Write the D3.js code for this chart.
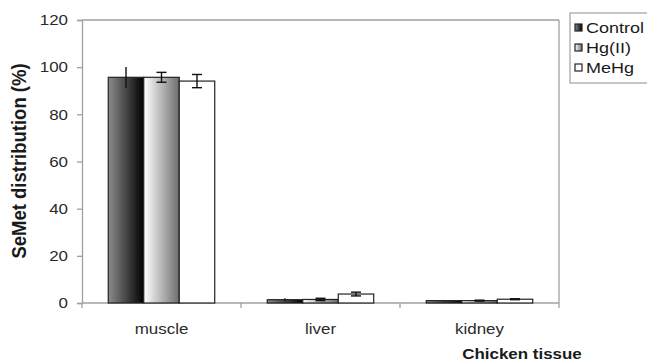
<!DOCTYPE html>
<html>
<head>
<meta charset="utf-8">
<script src="https://cdn.jsdelivr.net/npm/d3@7"></script>
<style>
  body { margin: 0; background: #fff; }
  text { font-family: "Liberation Sans", Arial, sans-serif; }
</style>
</head>
<body>
<div id="chart"></div>
<script>
var tissues = ["muscle", "liver", "kidney"];
var groups = ["Control", "Hg(II)", "MeHg"];
var controlVals = [95.7, 1.4, 1.0];
var hgVals = [95.7, 1.5, 1.0];
var mehgVals = [94.1, 3.8, 1.6];
var controlErr = [4.4, 0.6, 0.2];
var hgErr = [2.1, 0.5, 0.2];
var mehgErr = [2.8, 0.8, 0.2];
var yTicks = [0, 20, 40, 60, 80, 100, 120];

var width = 647, height = 362;
var plotLeft = 82, plotRight = 559, plotTop = 20, plotBottom = 303;
var stretch = "scale(1.13,1)";

var svg = d3.select("#chart").append("svg")
    .attr("width", width).attr("height", height);

var defs = svg.append("defs");
var g1 = defs.append("linearGradient").attr("id", "gradControl");
g1.append("stop").attr("offset", "0%").attr("stop-color", "#8c8c8c");
g1.append("stop").attr("offset", "100%").attr("stop-color", "#000");
var g2 = defs.append("linearGradient").attr("id", "gradHg");
g2.append("stop").attr("offset", "0%").attr("stop-color", "#fff");
g2.append("stop").attr("offset", "100%").attr("stop-color", "#6e6e6e");

var fills = ["url(#gradControl)", "url(#gradHg)", "#fff"];

var data = tissues.map(function(t, i) {
    return {
        tissue: t,
        values: [
            { key: groups[0], v: controlVals[i], e: controlErr[i], k: 0 },
            { key: groups[1], v: hgVals[i], e: hgErr[i], k: 1 },
            { key: groups[2], v: mehgVals[i], e: mehgErr[i], k: 2 }
        ]
    };
});

var x0 = d3.scaleBand().domain(tissues).range([plotLeft, plotRight]).paddingInner(0).paddingOuter(0);
var x1 = d3.scaleBand().domain(groups).range([0, x0.bandwidth()]).paddingOuter(0.74).paddingInner(0);
var y = d3.scaleLinear().domain([0, 120]).range([plotBottom, plotTop]);

// plot border
svg.append("line").attr("x1", plotLeft).attr("x2", plotRight).attr("y1", plotTop).attr("y2", plotTop)
    .attr("stroke", "#a0a0a0").attr("stroke-width", 1.3);
svg.append("line").attr("x1", plotRight).attr("x2", plotRight).attr("y1", plotTop).attr("y2", plotBottom)
    .attr("stroke", "#a0a0a0").attr("stroke-width", 1.3);

// y axis
var yAxis = d3.axisLeft(y).tickValues(yTicks).tickSize(5);
var yg = svg.append("g").attr("transform", "translate(" + plotLeft + ",0)").call(yAxis);
yg.select(".domain").attr("stroke", "#a0a0a0").attr("stroke-width", 1.3);
yg.selectAll(".tick line").attr("stroke", "#a0a0a0").attr("stroke-width", 1.3);
yg.selectAll("text")
    .attr("x", 0)
    .attr("transform", "translate(-14,0) " + stretch)
    .attr("font-size", 15).attr("fill", "#2a2a2a")
    .attr("font-family", "Liberation Sans, Arial, sans-serif");

// x axis with ticks on boundaries
var xg = svg.append("g").attr("transform", "translate(0," + plotBottom + ")");
xg.append("line").attr("x1", plotLeft).attr("x2", plotRight).attr("stroke", "#a0a0a0").attr("stroke-width", 1.3);
xg.selectAll("line.tk").data(tissues.concat(["end"])).enter().append("line")
    .attr("class", "tk")
    .attr("x1", function(d, i) { return plotLeft + i * x0.bandwidth(); })
    .attr("x2", function(d, i) { return plotLeft + i * x0.bandwidth(); })
    .attr("y1", 0).attr("y2", 5).attr("stroke", "#a0a0a0").attr("stroke-width", 1.3);
xg.selectAll("text").data(tissues).enter().append("text")
    .attr("transform", function(d) {
        return "translate(" + (x0(d) + x0.bandwidth() / 2) + ",31) " + stretch;
    })
    .attr("text-anchor", "middle")
    .attr("font-size", 15).attr("fill", "#2a2a2a")
    .text(function(d) { return d; });

// bars
var grp = svg.selectAll("g.grp").data(data).enter().append("g")
    .attr("class", "grp")
    .attr("transform", function(d) { return "translate(" + x0(d.tissue) + ",0)"; });

grp.selectAll("rect").data(function(d) { return d.values; }).enter().append("rect")
    .attr("x", function(d) { return x1(d.key); })
    .attr("y", function(d) { return y(d.v); })
    .attr("width", x1.bandwidth())
    .attr("height", function(d) { return y(0) - y(d.v); })
    .attr("fill", function(d) { return fills[d.k]; })
    .attr("stroke", "#222").attr("stroke-width", 1.2);

// error bars
var eb = grp.selectAll("g.eb").data(function(d) { return d.values; }).enter().append("g").attr("class", "eb");
eb.append("line")
    .attr("x1", function(d) { return x1(d.key) + x1.bandwidth() / 2; })
    .attr("x2", function(d) { return x1(d.key) + x1.bandwidth() / 2; })
    .attr("y1", function(d) { return y(d.v + d.e); })
    .attr("y2", function(d) { return y(d.v - d.e); })
    .attr("stroke", "#111").attr("stroke-width", 1.4);
eb.filter(function(d) { return d.k > 0; }).selectAll("line.cap")
    .data(function(d) { return [d.v + d.e, d.v - d.e].map(function(v) { return { v: v, key: d.key }; }); })
    .enter().append("line").attr("class", "cap")
    .attr("x1", function(d) { return x1(d.key) + x1.bandwidth() / 2 - 5; })
    .attr("x2", function(d) { return x1(d.key) + x1.bandwidth() / 2 + 5; })
    .attr("y1", function(d) { return y(d.v); })
    .attr("y2", function(d) { return y(d.v); })
    .attr("stroke", "#111").attr("stroke-width", 1.4);

// axis titles
svg.append("text")
    .attr("transform", "translate(26,161) rotate(-90) scale(1,1.1)")
    .attr("text-anchor", "middle")
    .attr("font-size", 18.5).attr("font-weight", "bold").attr("fill", "#1a1a1a")
    .text("SeMet distribution (%)");
svg.append("text")
    .attr("transform", "translate(522,359) " + stretch)
    .attr("text-anchor", "middle")
    .attr("font-size", 15).attr("font-weight", "bold").attr("fill", "#1a1a1a")
    .text("Chicken tissue");

// legend
var legend = svg.append("g").attr("transform", "translate(570,13)");
legend.append("rect").attr("x", 0).attr("y", 0).attr("width", 90).attr("height", 70)
    .attr("fill", "#fff").attr("stroke", "#a0a0a0").attr("stroke-width", 1.2);
var li = legend.selectAll("g.li").data(groups).enter().append("g")
    .attr("class", "li")
    .attr("transform", function(d, i) { return "translate(5," + (15 + i * 20) + ")"; });
li.append("rect").attr("x", 0).attr("y", -4).attr("width", 7).attr("height", 7)
    .attr("fill", function(d, i) { return fills[i]; })
    .attr("stroke", "#222").attr("stroke-width", 1.2);
li.append("text")
    .attr("transform", "translate(11,5) scale(1.2,1)")
    .attr("font-size", 15).attr("fill", "#1a1a1a")
    .text(function(d) { return d; });
</script>
</body>
</html>
